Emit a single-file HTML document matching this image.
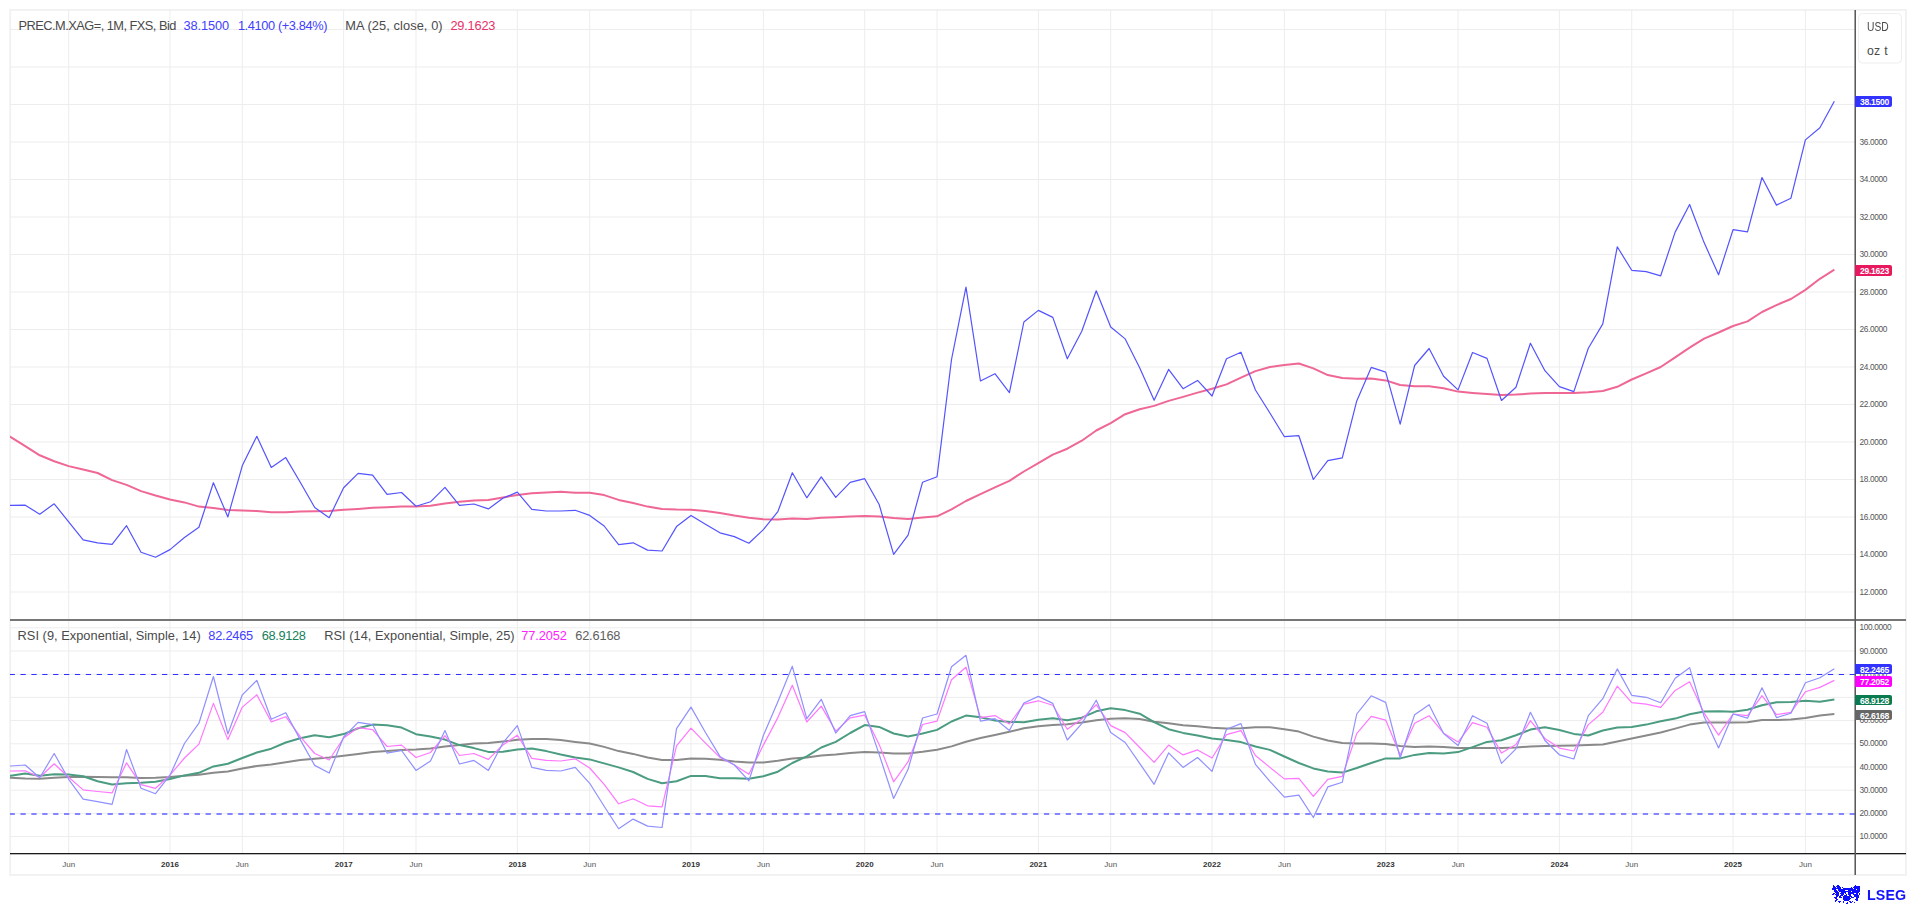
<!DOCTYPE html><html><head><meta charset="utf-8"><style>
html,body{margin:0;padding:0;background:#fff;}
body{width:1916px;height:905px;overflow:hidden;position:relative;font-family:"Liberation Sans", sans-serif;}
svg{position:absolute;left:0;top:0;}
.t{position:absolute;white-space:nowrap;line-height:1;}
</style></head><body>
<svg width="1916" height="905" viewBox="0 0 1916 905">
<defs><clipPath id="cm"><rect x="10" y="10" width="1845" height="610"/></clipPath>
<clipPath id="cr"><rect x="10" y="620" width="1845" height="233"/></clipPath></defs>
<rect x="10.2" y="9.9" width="1895.7" height="865" fill="none" stroke="#f1f1f1" stroke-width="1.8"/>
<path d="M68.67 10V853M169.98 10V853M242.34 10V853M343.65 10V853M416.02 10V853M517.33 10V853M589.69 10V853M691.0 10V853M763.37 10V853M864.68 10V853M937.04 10V853M1038.35 10V853M1110.71 10V853M1212.02 10V853M1284.39 10V853M1385.7 10V853M1458.06 10V853M1559.37 10V853M1631.73 10V853M1733.04 10V853M1805.41 10V853M10 592.0H1855M10 554.5H1855M10 517.0H1855M10 479.5H1855M10 442.0H1855M10 404.5H1855M10 367.0H1855M10 329.5H1855M10 292.0H1855M10 254.5H1855M10 217.0H1855M10 179.5H1855M10 142.0H1855M10 104.5H1855M10 67.0H1855M10 29.5H1855M10 836.6H1855M10 813.4H1855M10 790.2H1855M10 767.0H1855M10 743.8H1855M10 720.6H1855M10 697.4H1855M10 674.2H1855M10 651.0H1855M10 627.8H1855" stroke="#ededed" stroke-width="1" fill="none"/>
<path d="M10 674.5H1855" stroke="#2f2fff" stroke-width="1" stroke-dasharray="5.3 5.588" stroke-dashoffset="0.43" fill="none"/>
<path d="M10 814H1855" stroke="#8585ff" stroke-width="2" stroke-dasharray="5.3 5.588" stroke-dashoffset="0.43" fill="none"/>
<g clip-path="url(#cm)" fill="none" stroke-linejoin="round">
<polyline points="-3.69,428.0 10.78,437.1 25.25,446.2 39.73,455.3 54.20,461.2 68.67,466.1 83.14,469.5 97.62,473.0 112.09,480.1 126.56,484.9 141.04,491.1 155.51,495.5 169.98,499.5 184.45,502.4 198.93,506.6 213.40,508.0 227.87,510.1 242.34,510.5 256.82,511.0 271.29,512.3 285.76,512.3 300.24,511.5 314.71,511.2 329.18,511.0 343.65,509.8 358.13,508.9 372.60,507.7 387.07,507.3 401.55,506.6 416.02,506.4 430.49,505.7 444.96,503.4 459.44,501.8 473.91,500.4 488.38,499.9 502.86,497.4 517.33,494.9 531.80,493.3 546.27,492.5 560.75,491.8 575.22,492.8 589.69,492.8 604.16,495.1 618.64,499.9 633.11,503.1 647.58,506.6 662.06,509.1 676.53,509.6 691.00,509.7 705.47,511.0 719.95,513.1 734.42,515.6 748.89,517.7 763.37,519.3 777.84,519.5 792.31,518.6 806.78,519.0 821.26,517.7 835.73,517.2 850.20,516.5 864.68,516.0 879.15,516.5 893.62,518.1 908.09,519.0 922.57,517.4 937.04,516.3 951.51,509.3 965.98,501.0 980.46,494.1 994.93,487.4 1009.40,480.8 1023.88,471.5 1038.35,463.2 1052.82,454.6 1067.29,448.7 1081.77,440.7 1096.24,430.5 1110.71,423.1 1125.19,414.2 1139.66,409.2 1154.13,405.9 1168.60,400.9 1183.08,396.9 1197.55,392.6 1212.02,388.7 1226.50,384.4 1240.97,377.7 1255.44,371.1 1269.91,367.0 1284.39,365.1 1298.86,363.5 1313.33,368.4 1327.80,375.1 1342.28,378.1 1356.75,378.7 1371.22,378.4 1385.70,380.4 1400.17,385.0 1414.64,386.3 1429.11,386.2 1443.59,388.3 1458.06,391.6 1472.53,392.9 1487.01,393.9 1501.48,394.9 1515.95,394.6 1530.42,393.6 1544.90,392.9 1559.37,392.9 1573.84,392.9 1588.32,392.2 1602.79,391.0 1617.26,386.8 1631.73,379.5 1646.21,373.4 1660.68,367.0 1675.15,357.4 1689.62,347.7 1704.10,338.6 1718.57,332.5 1733.04,326.0 1747.52,321.4 1761.99,312.0 1776.46,305.1 1790.93,299.0 1805.41,289.9 1819.88,278.8 1834.35,269.7" stroke="#ef6795" stroke-width="2"/>
<polyline points="-3.69,505.4 10.78,505.4 25.25,505.2 39.73,514.2 54.20,503.8 68.67,521.8 83.14,539.8 97.62,542.8 112.09,544.4 126.56,525.7 141.04,552.2 155.51,557.2 169.98,549.6 184.45,537.5 198.93,527.3 213.40,482.7 227.87,516.9 242.34,465.6 256.82,436.3 271.29,467.4 285.76,457.6 300.24,482.2 314.71,507.5 329.18,517.7 343.65,487.7 358.13,473.4 372.60,475.1 387.07,494.4 401.55,492.5 416.02,506.2 430.49,501.8 444.96,487.3 459.44,505.4 473.91,504.0 488.38,508.9 502.86,498.3 517.33,492.1 531.80,509.3 546.27,511.0 560.75,511.0 575.22,510.3 589.69,515.4 604.16,526.0 618.64,544.6 633.11,542.8 647.58,550.1 662.06,551.0 676.53,526.6 691.00,515.5 705.47,524.3 719.95,532.8 734.42,536.6 748.89,543.2 763.37,529.6 777.84,511.6 792.31,472.7 806.78,497.8 821.26,476.9 835.73,497.4 850.20,482.4 864.68,478.7 879.15,504.5 893.62,554.3 908.09,535.2 922.57,482.2 937.04,476.8 951.51,359.5 965.98,287.2 980.46,381.0 994.93,373.7 1009.40,392.6 1023.88,322.0 1038.35,310.4 1052.82,317.4 1067.29,358.8 1081.77,331.3 1096.24,290.8 1110.71,327.0 1125.19,338.9 1139.66,367.8 1154.13,400.3 1168.60,369.4 1183.08,388.7 1197.55,380.4 1212.02,396.0 1226.50,358.8 1240.97,352.2 1255.44,390.0 1269.91,413.0 1284.39,436.7 1298.86,435.7 1313.33,479.5 1327.80,460.6 1342.28,457.9 1356.75,400.9 1371.22,367.4 1385.70,372.1 1400.17,424.1 1414.64,365.5 1429.11,348.5 1443.59,376.3 1458.06,389.9 1472.53,352.5 1487.01,358.4 1501.48,400.5 1515.95,387.3 1530.42,343.2 1544.90,370.7 1559.37,386.6 1573.84,391.6 1588.32,348.2 1602.79,323.9 1617.26,246.8 1631.73,270.3 1646.21,271.6 1660.68,275.8 1675.15,232.1 1689.62,204.5 1704.10,242.6 1718.57,274.8 1733.04,229.7 1747.52,231.9 1761.99,177.5 1776.46,205.1 1790.93,198.2 1805.41,139.9 1819.88,127.8 1834.35,101.3" stroke="#5353ff" stroke-width="1.2"/>
</g>
<g clip-path="url(#cr)" fill="none" stroke-linejoin="round">
<polyline points="-3.69,777.7 10.78,777.7 25.25,778.5 39.73,778.7 54.20,777.7 68.67,777.1 83.14,776.7 97.62,777.1 112.09,777.3 126.56,777.3 141.04,777.9 155.51,777.7 169.98,777.1 184.45,775.8 198.93,774.8 213.40,772.8 227.87,771.4 242.34,768.4 256.82,766.0 271.29,764.4 285.76,762.2 300.24,760.0 314.71,758.8 329.18,757.5 343.65,755.7 358.13,753.9 372.60,752.1 387.07,751.1 401.55,749.9 416.02,749.5 430.49,748.5 444.96,746.5 459.44,745.1 473.91,743.5 488.38,743.1 502.86,741.5 517.33,739.8 531.80,739.0 546.27,739.0 560.75,740.0 575.22,741.9 589.69,743.5 604.16,746.9 618.64,751.1 633.11,753.9 647.58,757.5 662.06,760.0 676.53,759.9 691.00,758.6 705.47,758.8 719.95,759.8 734.42,761.4 748.89,762.4 763.37,762.4 777.84,760.8 792.31,758.4 806.78,757.4 821.26,755.4 835.73,754.4 850.20,752.9 864.68,752.0 879.15,752.4 893.62,753.4 908.09,753.4 922.57,751.8 937.04,749.8 951.51,746.4 965.98,741.8 980.46,738.0 994.93,734.9 1009.40,731.8 1023.88,728.3 1038.35,726.2 1052.82,725.0 1067.29,724.2 1081.77,722.6 1096.24,720.3 1110.71,718.7 1125.19,718.3 1139.66,719.1 1154.13,721.7 1168.60,723.2 1183.08,725.2 1197.55,726.2 1212.02,727.8 1226.50,728.6 1240.97,728.2 1255.44,727.2 1269.91,727.2 1284.39,729.2 1298.86,731.6 1313.33,736.6 1327.80,740.5 1342.28,743.1 1356.75,743.5 1371.22,743.5 1385.70,744.1 1400.17,746.1 1414.64,746.9 1429.11,746.5 1443.59,747.1 1458.06,748.1 1472.53,748.1 1487.01,748.1 1501.48,748.1 1515.95,747.5 1530.42,746.5 1544.90,746.1 1559.37,745.7 1573.84,745.5 1588.32,745.1 1602.79,744.5 1617.26,741.5 1631.73,738.5 1646.21,735.5 1660.68,732.5 1675.15,728.6 1689.62,724.6 1704.10,722.4 1718.57,722.6 1733.04,722.6 1747.52,722.2 1761.99,720.0 1776.46,720.0 1790.93,719.6 1805.41,718.0 1819.88,715.6 1834.35,714.0" stroke="#8a8a8a" stroke-width="2"/>
<polyline points="-3.69,775.8 10.78,775.8 25.25,773.4 39.73,775.8 54.20,774.2 68.67,774.4 83.14,776.3 97.62,781.3 112.09,784.5 126.56,783.3 141.04,782.7 155.51,781.7 169.98,779.0 184.45,775.4 198.93,772.8 213.40,766.4 227.87,763.8 242.34,758.0 256.82,752.5 271.29,748.7 285.76,742.5 300.24,738.2 314.71,735.2 329.18,737.2 343.65,734.1 358.13,728.2 372.60,724.6 387.07,725.2 401.55,727.6 416.02,734.2 430.49,736.6 444.96,739.6 459.44,745.1 473.91,748.1 488.38,751.9 502.86,751.7 517.33,749.5 531.80,748.5 546.27,751.1 560.75,754.5 575.22,757.5 589.69,759.4 604.16,763.4 618.64,767.4 633.11,772.0 647.58,778.9 662.06,783.3 676.53,781.3 691.00,775.9 705.47,775.9 719.95,778.3 734.42,778.3 748.89,778.7 763.37,776.3 777.84,771.7 792.31,763.0 806.78,756.4 821.26,747.5 835.73,741.9 850.20,733.0 864.68,725.1 879.15,726.9 893.62,733.5 908.09,736.5 922.57,733.5 937.04,729.9 951.51,721.5 965.98,715.6 980.46,717.2 994.93,720.5 1009.40,722.0 1023.88,722.2 1038.35,719.7 1052.82,718.3 1067.29,720.3 1081.77,717.7 1096.24,711.3 1110.71,708.3 1125.19,710.1 1139.66,713.7 1154.13,722.1 1168.60,729.2 1183.08,732.9 1197.55,735.6 1212.02,738.6 1226.50,740.0 1240.97,742.1 1255.44,746.5 1269.91,749.9 1284.39,756.5 1298.86,763.0 1313.33,768.4 1327.80,771.4 1342.28,772.6 1356.75,768.0 1371.22,763.0 1385.70,758.4 1400.17,758.4 1414.64,754.9 1429.11,752.9 1443.59,753.5 1458.06,752.1 1472.53,747.1 1487.01,741.9 1501.48,740.2 1515.95,735.2 1530.42,729.6 1544.90,727.2 1559.37,730.0 1573.84,733.9 1588.32,735.5 1602.79,730.5 1617.26,727.6 1631.73,727.0 1646.21,724.6 1660.68,721.2 1675.15,718.6 1689.62,714.2 1704.10,711.5 1718.57,711.3 1733.04,711.7 1747.52,709.7 1761.99,705.3 1776.46,702.3 1790.93,702.1 1805.41,700.7 1819.88,701.7 1834.35,699.4" stroke="#4b9c80" stroke-width="2"/>
<polyline points="-3.69,771.0 10.78,771.0 25.25,770.8 39.73,777.3 54.20,763.8 68.67,777.3 83.14,789.9 97.62,791.5 112.09,792.9 126.56,762.8 141.04,784.7 155.51,788.3 169.98,775.2 184.45,758.0 198.93,744.1 213.40,703.4 227.87,739.6 242.34,707.1 256.82,694.8 271.29,721.9 285.76,716.7 300.24,736.6 314.71,753.5 329.18,760.0 343.65,738.0 358.13,727.6 372.60,729.6 387.07,746.5 401.55,745.1 416.02,757.5 430.49,752.5 444.96,735.6 459.44,755.5 473.91,753.5 488.38,759.4 502.86,745.0 517.33,735.2 531.80,758.4 546.27,760.4 560.75,761.0 575.22,758.8 589.69,768.0 604.16,784.3 618.64,803.8 633.11,798.8 647.58,805.8 662.06,806.8 676.53,745.9 691.00,728.2 705.47,743.1 719.95,757.4 734.42,765.0 748.89,774.3 763.37,745.1 777.84,717.6 792.31,685.2 806.78,722.0 821.26,706.1 835.73,731.1 850.20,717.9 864.68,715.2 879.15,744.4 893.62,781.8 908.09,761.7 922.57,724.5 937.04,721.1 951.51,679.8 965.98,667.2 980.46,717.6 994.93,715.6 1009.40,724.0 1023.88,704.2 1038.35,700.8 1052.82,705.3 1067.29,729.2 1081.77,719.1 1096.24,704.7 1110.71,725.6 1125.19,732.6 1139.66,747.5 1154.13,762.4 1168.60,745.1 1183.08,754.9 1197.55,749.9 1212.02,758.0 1226.50,734.6 1240.97,730.6 1255.44,755.5 1269.91,767.4 1284.39,778.9 1298.86,778.3 1313.33,796.4 1327.80,779.3 1342.28,776.3 1356.75,733.6 1371.22,716.3 1385.70,720.1 1400.17,755.1 1414.64,723.2 1429.11,715.7 1443.59,733.2 1458.06,742.1 1472.53,722.6 1487.01,727.2 1501.48,753.1 1515.95,744.5 1530.42,720.6 1544.90,738.5 1559.37,748.1 1573.84,751.0 1588.32,724.6 1602.79,712.3 1617.26,686.2 1631.73,702.7 1646.21,704.1 1660.68,707.3 1675.15,690.4 1689.62,681.8 1704.10,713.2 1718.57,735.1 1733.04,714.0 1747.52,715.6 1761.99,695.7 1776.46,714.6 1790.93,712.3 1805.41,691.8 1819.88,687.4 1834.35,680.4" stroke="#ff77ff" stroke-width="1.2"/>
<polyline points="-3.69,766.0 10.78,766.0 25.25,765.0 39.73,777.7 54.20,753.5 68.67,779.3 83.14,799.2 97.62,801.6 112.09,804.4 126.56,749.5 141.04,788.3 155.51,793.7 169.98,775.2 184.45,743.5 198.93,723.2 213.40,676.5 227.87,734.0 242.34,694.8 256.82,680.3 271.29,719.3 285.76,712.7 300.24,739.6 314.71,765.4 329.18,773.0 343.65,737.0 358.13,722.3 372.60,724.6 387.07,753.1 401.55,750.5 416.02,770.4 430.49,761.0 444.96,730.6 459.44,764.0 473.91,760.4 488.38,770.4 502.86,743.0 517.33,725.6 531.80,767.4 546.27,770.4 560.75,771.0 575.22,767.4 589.69,783.3 604.16,806.2 618.64,828.7 633.11,819.1 647.58,826.1 662.06,827.5 676.53,728.6 691.00,707.1 705.47,732.5 719.95,756.4 734.42,765.0 748.89,780.9 763.37,735.5 777.84,701.7 792.31,666.3 806.78,718.6 821.26,699.3 835.73,733.1 850.20,715.6 864.68,711.6 879.15,754.4 893.62,798.5 908.09,769.3 922.57,718.0 937.04,714.0 951.51,666.8 965.98,655.3 980.46,721.1 994.93,718.6 1009.40,730.5 1023.88,703.0 1038.35,696.4 1052.82,703.4 1067.29,740.0 1081.77,723.6 1096.24,700.2 1110.71,732.6 1125.19,742.5 1139.66,763.4 1154.13,784.3 1168.60,752.9 1183.08,767.4 1197.55,757.5 1212.02,771.4 1226.50,729.2 1240.97,723.6 1255.44,764.4 1269.91,781.3 1284.39,797.2 1298.86,795.2 1313.33,817.5 1327.80,786.9 1342.28,782.3 1356.75,714.0 1371.22,695.8 1385.70,702.4 1400.17,758.0 1414.64,714.7 1429.11,704.7 1443.59,733.6 1458.06,745.5 1472.53,715.7 1487.01,723.2 1501.48,763.4 1515.95,748.9 1530.42,712.3 1544.90,740.5 1559.37,754.8 1573.84,759.0 1588.32,715.6 1602.79,698.7 1617.26,668.9 1631.73,695.3 1646.21,697.3 1660.68,702.7 1675.15,678.2 1689.62,667.7 1704.10,716.6 1718.57,748.0 1733.04,714.0 1747.52,718.2 1761.99,687.8 1776.46,717.6 1790.93,713.2 1805.41,682.8 1819.88,677.8 1834.35,668.8" stroke="#9090ff" stroke-width="1.2"/>
</g>
<rect x="10" y="619" width="1896" height="2" fill="#767676"/>
<rect x="10" y="853" width="1896" height="1.3" fill="#1a1a1a"/>
<rect x="1854.45" y="10" width="1.55" height="865" fill="#5a5a5a"/>
<rect x="1858.5" y="13.5" width="43" height="49.5" rx="4" fill="#fff" stroke="#eeeeee" stroke-width="1"/>
</svg>
<div class="t" style="left:18.5px;top:19.5px;font-size:12.8px;color:#4a4a4a;font-weight:normal;letter-spacing:-0.517px;">PREC.M.XAG=, 1M, FXS, Bid</div>
<div class="t" style="left:183.6px;top:19.5px;font-size:12.8px;color:#4040ff;font-weight:normal;letter-spacing:-0.133px;">38.1500</div>
<div class="t" style="left:237.9px;top:19.5px;font-size:12.8px;color:#4040ff;font-weight:normal;letter-spacing:-0.386px;">1.4100 (+3.84%)</div>
<div class="t" style="left:345.2px;top:19.5px;font-size:12.8px;color:#4a4a4a;font-weight:normal;letter-spacing:0.088px;">MA (25, close, 0)</div>
<div class="t" style="left:450.4px;top:19.5px;font-size:12.8px;color:#e8306a;font-weight:normal;letter-spacing:-0.200px;">29.1623</div>
<div class="t" style="left:17.6px;top:630.0px;font-size:12.8px;color:#4a4a4a;font-weight:normal;letter-spacing:0.032px;">RSI (9, Exponential, Simple, 14)</div>
<div class="t" style="left:208.3px;top:630.0px;font-size:12.8px;color:#4040ff;font-weight:normal;letter-spacing:-0.233px;">82.2465</div>
<div class="t" style="left:261.7px;top:630.0px;font-size:12.8px;color:#17805a;font-weight:normal;letter-spacing:-0.333px;">68.9128</div>
<div class="t" style="left:324.2px;top:630.0px;font-size:12.8px;color:#4a4a4a;font-weight:normal;letter-spacing:0.037px;">RSI (14, Exponential, Simple, 25)</div>
<div class="t" style="left:521.2px;top:630.0px;font-size:12.8px;color:#ff22ff;font-weight:normal;letter-spacing:-0.100px;">77.2052</div>
<div class="t" style="left:575.2px;top:630.0px;font-size:12.8px;color:#5e5e5e;font-weight:normal;letter-spacing:-0.167px;">62.6168</div>
<div class="t" style="left:1866.9px;top:19.9px;font-size:13px;color:#4a4a4a;font-weight:normal;transform:scaleX(0.79);transform-origin:0 0;">USD</div>
<div class="t" style="left:1866.9px;top:45.0px;font-size:12.3px;color:#4a4a4a;font-weight:normal;letter-spacing:0.3px;">oz t</div>
<div class="t" style="left:1859.5px;top:587.57px;font-size:8.3px;color:#555;font-weight:normal;letter-spacing:-0.35px;">12.0000</div>
<div class="t" style="left:1859.5px;top:550.07px;font-size:8.3px;color:#555;font-weight:normal;letter-spacing:-0.35px;">14.0000</div>
<div class="t" style="left:1859.5px;top:512.57px;font-size:8.3px;color:#555;font-weight:normal;letter-spacing:-0.35px;">16.0000</div>
<div class="t" style="left:1859.5px;top:475.07px;font-size:8.3px;color:#555;font-weight:normal;letter-spacing:-0.35px;">18.0000</div>
<div class="t" style="left:1859.5px;top:437.57px;font-size:8.3px;color:#555;font-weight:normal;letter-spacing:-0.35px;">20.0000</div>
<div class="t" style="left:1859.5px;top:400.07px;font-size:8.3px;color:#555;font-weight:normal;letter-spacing:-0.35px;">22.0000</div>
<div class="t" style="left:1859.5px;top:362.57px;font-size:8.3px;color:#555;font-weight:normal;letter-spacing:-0.35px;">24.0000</div>
<div class="t" style="left:1859.5px;top:325.07px;font-size:8.3px;color:#555;font-weight:normal;letter-spacing:-0.35px;">26.0000</div>
<div class="t" style="left:1859.5px;top:287.57px;font-size:8.3px;color:#555;font-weight:normal;letter-spacing:-0.35px;">28.0000</div>
<div class="t" style="left:1859.5px;top:250.07px;font-size:8.3px;color:#555;font-weight:normal;letter-spacing:-0.35px;">30.0000</div>
<div class="t" style="left:1859.5px;top:212.57px;font-size:8.3px;color:#555;font-weight:normal;letter-spacing:-0.35px;">32.0000</div>
<div class="t" style="left:1859.5px;top:175.07px;font-size:8.3px;color:#555;font-weight:normal;letter-spacing:-0.35px;">34.0000</div>
<div class="t" style="left:1859.5px;top:137.57px;font-size:8.3px;color:#555;font-weight:normal;letter-spacing:-0.35px;">36.0000</div>
<div class="t" style="left:1859.5px;top:832.17px;font-size:8.3px;color:#555;font-weight:normal;letter-spacing:-0.35px;">10.0000</div>
<div class="t" style="left:1859.5px;top:808.97px;font-size:8.3px;color:#555;font-weight:normal;letter-spacing:-0.35px;">20.0000</div>
<div class="t" style="left:1859.5px;top:785.77px;font-size:8.3px;color:#555;font-weight:normal;letter-spacing:-0.35px;">30.0000</div>
<div class="t" style="left:1859.5px;top:762.57px;font-size:8.3px;color:#555;font-weight:normal;letter-spacing:-0.35px;">40.0000</div>
<div class="t" style="left:1859.5px;top:739.37px;font-size:8.3px;color:#555;font-weight:normal;letter-spacing:-0.35px;">50.0000</div>
<div class="t" style="left:1859.5px;top:716.17px;font-size:8.3px;color:#555;font-weight:normal;letter-spacing:-0.35px;">60.0000</div>
<div class="t" style="left:1859.5px;top:669.77px;font-size:8.3px;color:#555;font-weight:normal;letter-spacing:-0.35px;">80.0000</div>
<div class="t" style="left:1859.5px;top:646.57px;font-size:8.3px;color:#555;font-weight:normal;letter-spacing:-0.35px;">90.0000</div>
<div class="t" style="left:1859.5px;top:623.37px;font-size:8.3px;color:#555;font-weight:normal;letter-spacing:-0.35px;">100.0000</div>
<div style="position:absolute;left:1855px;top:96px;width:37px;height:10.6px;background:#3333ff;border-radius:0 2px 2px 0;"></div>
<div class="t" style="left:1860.1px;top:97.5px;font-size:8.6px;color:#fff;font-weight:bold;letter-spacing:-0.33px;">38.1500</div>
<div style="position:absolute;left:1855px;top:265.1px;width:37px;height:10.7px;background:#e8185f;border-radius:0 2px 2px 0;"></div>
<div class="t" style="left:1860.1px;top:266.6px;font-size:8.6px;color:#fff;font-weight:bold;letter-spacing:-0.33px;">29.1623</div>
<div style="position:absolute;left:1855px;top:664.1px;width:37px;height:10.4px;background:#3333ff;border-radius:0 2px 2px 0;"></div>
<div class="t" style="left:1860.1px;top:665.6px;font-size:8.6px;color:#fff;font-weight:bold;letter-spacing:-0.33px;">82.2465</div>
<div style="position:absolute;left:1855px;top:676.3px;width:37px;height:10.4px;background:#ff00ff;border-radius:0 2px 2px 0;"></div>
<div class="t" style="left:1860.1px;top:677.8px;font-size:8.6px;color:#fff;font-weight:bold;letter-spacing:-0.33px;">77.2052</div>
<div style="position:absolute;left:1855px;top:695px;width:37px;height:10.3px;background:#0a7a50;border-radius:0 2px 2px 0;"></div>
<div class="t" style="left:1860.1px;top:696.5px;font-size:8.6px;color:#fff;font-weight:bold;letter-spacing:-0.33px;">68.9128</div>
<div style="position:absolute;left:1855px;top:710px;width:37px;height:10.3px;background:#666666;border-radius:0 2px 2px 0;"></div>
<div class="t" style="left:1860.1px;top:711.5px;font-size:8.6px;color:#fff;font-weight:bold;letter-spacing:-0.33px;">62.6168</div>
<div class="t" style="left:38.7px;width:60px;text-align:center;top:860.5px;font-size:8px;color:#555;font-weight:normal;">Jun</div>
<div class="t" style="left:212.3px;width:60px;text-align:center;top:860.5px;font-size:8px;color:#555;font-weight:normal;">Jun</div>
<div class="t" style="left:386.0px;width:60px;text-align:center;top:860.5px;font-size:8px;color:#555;font-weight:normal;">Jun</div>
<div class="t" style="left:559.7px;width:60px;text-align:center;top:860.5px;font-size:8px;color:#555;font-weight:normal;">Jun</div>
<div class="t" style="left:733.4px;width:60px;text-align:center;top:860.5px;font-size:8px;color:#555;font-weight:normal;">Jun</div>
<div class="t" style="left:907.0px;width:60px;text-align:center;top:860.5px;font-size:8px;color:#555;font-weight:normal;">Jun</div>
<div class="t" style="left:1080.7px;width:60px;text-align:center;top:860.5px;font-size:8px;color:#555;font-weight:normal;">Jun</div>
<div class="t" style="left:1254.4px;width:60px;text-align:center;top:860.5px;font-size:8px;color:#555;font-weight:normal;">Jun</div>
<div class="t" style="left:1428.1px;width:60px;text-align:center;top:860.5px;font-size:8px;color:#555;font-weight:normal;">Jun</div>
<div class="t" style="left:1601.7px;width:60px;text-align:center;top:860.5px;font-size:8px;color:#555;font-weight:normal;">Jun</div>
<div class="t" style="left:1775.4px;width:60px;text-align:center;top:860.5px;font-size:8px;color:#555;font-weight:normal;">Jun</div>
<div class="t" style="left:140.0px;width:60px;text-align:center;top:860.5px;font-size:8px;color:#333;font-weight:bold;">2016</div>
<div class="t" style="left:313.7px;width:60px;text-align:center;top:860.5px;font-size:8px;color:#333;font-weight:bold;">2017</div>
<div class="t" style="left:487.3px;width:60px;text-align:center;top:860.5px;font-size:8px;color:#333;font-weight:bold;">2018</div>
<div class="t" style="left:661.0px;width:60px;text-align:center;top:860.5px;font-size:8px;color:#333;font-weight:bold;">2019</div>
<div class="t" style="left:834.7px;width:60px;text-align:center;top:860.5px;font-size:8px;color:#333;font-weight:bold;">2020</div>
<div class="t" style="left:1008.3px;width:60px;text-align:center;top:860.5px;font-size:8px;color:#333;font-weight:bold;">2021</div>
<div class="t" style="left:1182.0px;width:60px;text-align:center;top:860.5px;font-size:8px;color:#333;font-weight:bold;">2022</div>
<div class="t" style="left:1355.7px;width:60px;text-align:center;top:860.5px;font-size:8px;color:#333;font-weight:bold;">2023</div>
<div class="t" style="left:1529.4px;width:60px;text-align:center;top:860.5px;font-size:8px;color:#333;font-weight:bold;">2024</div>
<div class="t" style="left:1703.0px;width:60px;text-align:center;top:860.5px;font-size:8px;color:#333;font-weight:bold;">2025</div>
<svg style="position:absolute;left:1832px;top:885px" width="30" height="20" viewBox="0 0 30 20"><defs><filter id="lb" x="-10%" y="-10%" width="120%" height="120%"><feGaussianBlur stdDeviation="0.35"/></filter></defs><path filter="url(#lb)" fill="#0a0aff" d="M1 0h1v1h-1zM5 0h2v1h-2zM23 0h1v1h-1zM1 1h2v1h-2zM4 1h4v1h-4zM22 1h6v1h-6zM1 2h3v1h-3zM5 2h4v1h-4zM10 2h1v1h-1zM19 2h1v1h-1zM21 2h7v1h-7zM0 3h9v1h-9zM11 3h10v1h-10zM22 3h6v1h-6zM0 4h4v1h-4zM6 4h15v1h-15zM21 4h3v1h-3zM25 4h3v1h-3zM2 5h3v1h-3zM6 5h7v1h-7zM16 5h12v1h-12zM2 6h4v1h-4zM7 6h12v1h-12zM20 6h8v1h-8zM3 7h4v1h-4zM9 7h5v1h-5zM16 7h11v1h-11zM1 8h2v1h-2zM4 8h3v1h-3zM8 8h4v1h-4zM13 8h1v1h-1zM16 8h6v1h-6zM24 8h2v1h-2zM27 8h1v1h-1zM0 9h2v1h-2zM3 9h4v1h-4zM9 9h3v1h-3zM14 9h1v1h-1zM16 9h3v1h-3zM21 9h5v1h-5zM27 9h1v1h-1zM4 10h3v1h-3zM8 10h3v1h-3zM12 10h3v1h-3zM17 10h2v1h-2zM22 10h5v1h-5zM4 11h2v1h-2zM7 11h2v1h-2zM11 11h7v1h-7zM18 11h2v1h-2zM22 11h3v1h-3zM25 11h2v1h-2zM2 12h3v1h-3zM7 12h3v1h-3zM11 12h7v1h-7zM19 12h3v1h-3zM24 12h3v1h-3zM3 13h2v1h-2zM11 13h8v1h-8zM24 13h2v1h-2zM4 14h2v1h-2zM11 14h7v1h-7zM23 14h3v1h-3zM3 15h2v1h-2zM12 15h5v1h-5zM24 15h2v1h-2zM3 16h1v1h-1zM6 16h3v1h-3zM11 16h1v1h-1zM17 16h2v1h-2zM20 16h1v1h-1zM7 17h1v1h-1zM11 17h1v1h-1zM15 17h1v1h-1zM18 17h2v1h-2zM22 17h1v1h-1zM14 18h2v1h-2z"/></svg>
<div class="t" style="left:1866.6px;top:887.4px;font-size:15px;color:#1414ff;font-weight:bold;transform:scaleX(0.95);transform-origin:0 0;letter-spacing:0.1px;">LSEG</div>
</body></html>
